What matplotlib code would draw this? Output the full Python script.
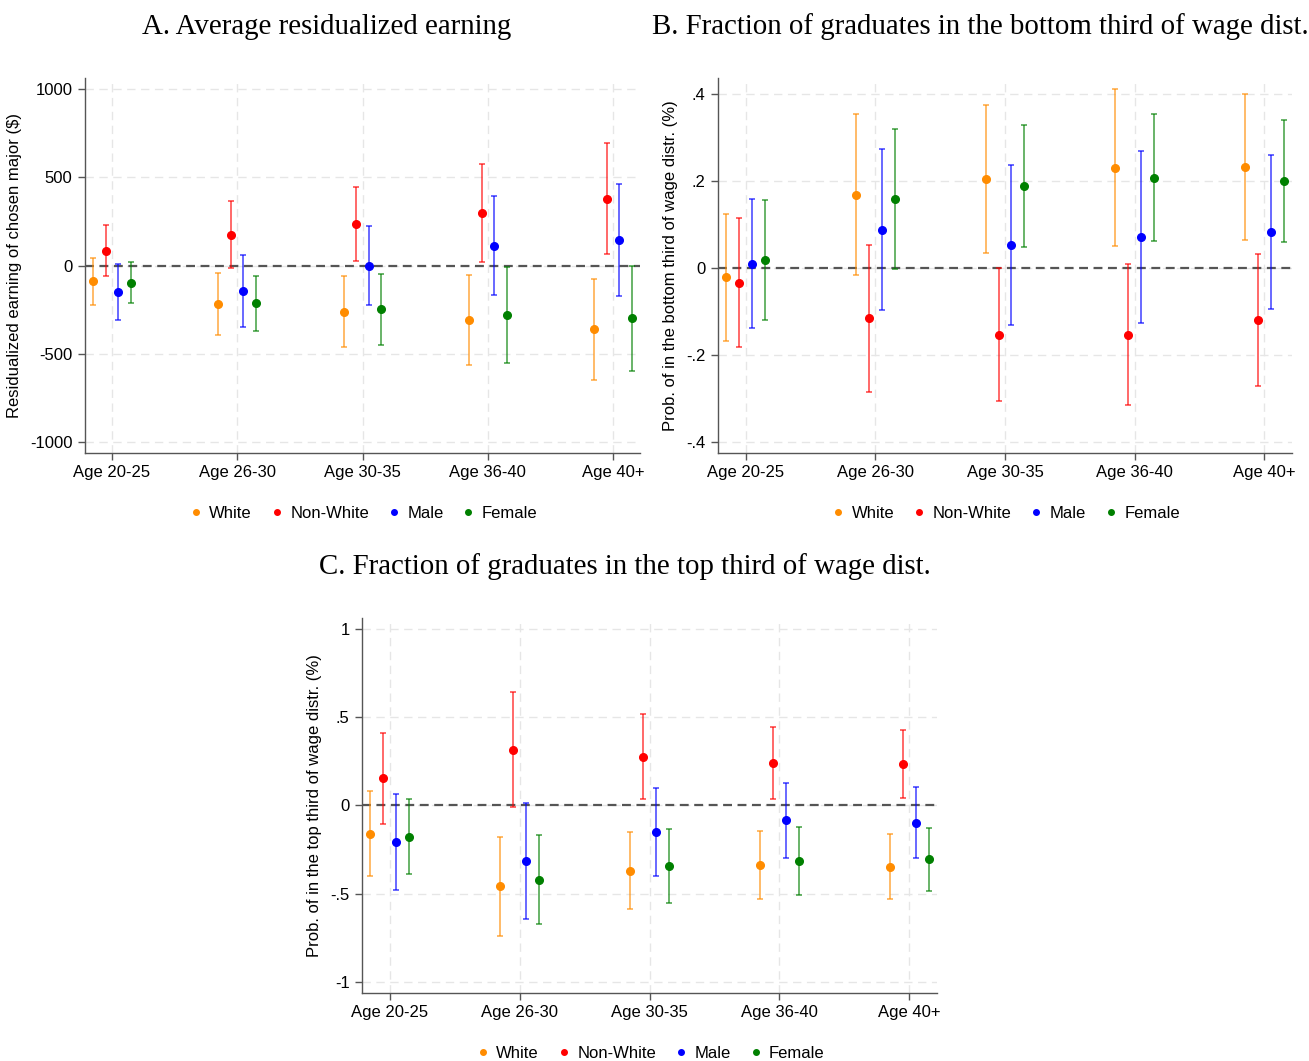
import numpy as np
import matplotlib.pyplot as plt
from matplotlib.lines import Line2D

plt.rcParams['font.family'] = ['Liberation Sans', 'DejaVu Sans']

groups = ['Age 20-25', 'Age 26-30', 'Age 30-35', 'Age 36-40', 'Age 40+']
series = ['White', 'Non-White', 'Male', 'Female']
colors = ['#ff8c00', '#ff0000', '#0000ff', '#008000']
offsets = [-0.15, -0.05, 0.05, 0.15]

# Panel A: residualized earning ($)  rows = White, Non-White, Male, Female
a_est = [[-90, -217, -262, -308, -360],
         [83, 175, 236, 296, 379],
         [-151, -147, 0, 111, 142],
         [-98, -215, -249, -279, -298]]
a_lo = [[-226, -392, -462, -564, -649],
        [-62, -15, 23, 19, 66],
        [-308, -349, -223, -168, -175],
        [-213, -370, -449, -551, -596]]
a_hi = [[41, -40, -60, -53, -74],
        [228, 368, 447, 575, 696],
        [8, 57, 226, 391, 460],
        [17, -57, -47, -9, 0]]

# Panel B: bottom third of wage distribution
b_est = [[-0.022, 0.167, 0.203, 0.230, 0.232],
         [-0.034, -0.116, -0.153, -0.153, -0.120],
         [0.010, 0.087, 0.053, 0.071, 0.082],
         [0.018, 0.158, 0.187, 0.206, 0.199]]
b_lo = [[-0.167, -0.016, 0.035, 0.051, 0.064],
        [-0.181, -0.285, -0.305, -0.315, -0.271],
        [-0.138, -0.097, -0.131, -0.126, -0.095],
        [-0.119, -0.002, 0.047, 0.061, 0.060]]
b_hi = [[0.124, 0.353, 0.375, 0.411, 0.400],
        [0.114, 0.053, 0.000, 0.010, 0.032],
        [0.158, 0.272, 0.237, 0.268, 0.259],
        [0.155, 0.320, 0.327, 0.353, 0.339]]

# Panel C: top third of wage distribution
c_est = [[-0.160, -0.458, -0.372, -0.340, -0.347],
         [0.153, 0.315, 0.275, 0.240, 0.234],
         [-0.208, -0.317, -0.149, -0.085, -0.098],
         [-0.177, -0.421, -0.342, -0.315, -0.306]]
c_lo = [[-0.402, -0.740, -0.589, -0.530, -0.532],
        [-0.104, -0.011, 0.036, 0.038, 0.042],
        [-0.479, -0.645, -0.398, -0.296, -0.300],
        [-0.389, -0.672, -0.551, -0.508, -0.487]]
c_hi = [[0.079, -0.179, -0.153, -0.145, -0.164],
        [0.408, 0.642, 0.515, 0.443, 0.428],
        [0.066, 0.013, 0.100, 0.128, 0.104],
        [0.036, -0.170, -0.134, -0.125, -0.128]]

W, H = 1309, 1061
fig = plt.figure(figsize=(W / 100, H / 100), dpi=100)


def panel(rect, est, lo, hi, yticks, yticklabels, ylim, ylabel, title, title_xy, leg_y):
    l, t, r, b = rect
    ax = fig.add_axes([l / W, 1 - b / H, (r - l) / W, (b - t) / H])
    x = np.arange(1, len(groups) + 1)
    for i in range(len(series)):
        e = np.array(est[i]); lw = np.array(lo[i]); up = np.array(hi[i])
        ax.errorbar(x + offsets[i], e, yerr=[e - lw, up - e], fmt='none',
                    ecolor=colors[i], elinewidth=1.1, capsize=2.2, capthick=1.1,
                    alpha=0.75, zorder=3)
        ax.plot(x + offsets[i], e, 'o', color=colors[i], ms=5.5, zorder=4)
    ax.axhline(0, color='#555555', lw=1.6, ls=(0, (4, 2.5)), zorder=2)
    ax.set_xlim(0.785, 5.215)
    ax.set_ylim(*ylim)
    ax.set_xticks(x)
    ax.set_xticklabels(groups, fontsize=12)
    ax.set_yticks(yticks)
    ax.set_yticklabels(yticklabels, fontsize=12)
    ax.set_ylabel(ylabel, fontsize=12, labelpad=6)
    ax.grid(True, color='#e6e6e6', ls=(0, (6, 4)), lw=1.0, zorder=0)
    ax.set_axisbelow(True)
    for s in ['top', 'right']:
        ax.spines[s].set_visible(False)
    for s in ['left', 'bottom']:
        ax.spines[s].set_color('#555555')
        ax.spines[s].set_linewidth(1.0)
    ax.tick_params(length=5, color='#555555', width=1.0, pad=4)
    fig.text(title_xy[0] / W, 1 - title_xy[1] / H, title, ha='center', va='center',
             fontsize=20.8, family='Liberation Serif')
    handles = [Line2D([], [], marker='o', ls='none', color=c, ms=4) for c in colors]
    fig.legend(handles, series, loc='center', bbox_to_anchor=((l + r) / 2 / W, 1 - leg_y / H),
               ncol=4, frameon=False, fontsize=12, handletextpad=0.3, columnspacing=1.0,
               handlelength=1.0)
    return ax


panel((85, 78, 640, 453), a_est, a_lo, a_hi,
      [-1000, -500, 0, 500, 1000], ['-1000', '-500', '0', '500', '1000'], (-1062, 1062),
      'Residualized earning of chosen major ($)', 'A. Average residualized earning',
      (327, 27), 513)
panel((718, 78, 1292, 453), b_est, b_lo, b_hi,
      [-0.4, -0.2, 0, 0.2, 0.4], ['-.4', '-.2', '0', '.2', '.4'], (-0.425, 0.436),
      'Prob. of in the bottom third of wage distr. (%)',
      'B. Fraction of graduates in the bottom third of wage dist.', (980, 27), 513)
panel((362, 618, 937, 993), c_est, c_lo, c_hi,
      [-1, -0.5, 0, 0.5, 1], ['-1', '-.5', '0', '.5', '1'], (-1.062, 1.06),
      'Prob. of in the top third of wage distr. (%)',
      'C. Fraction of graduates in the top third of wage dist.', (625, 567), 1053)

fig.savefig('out.png', dpi=100)
